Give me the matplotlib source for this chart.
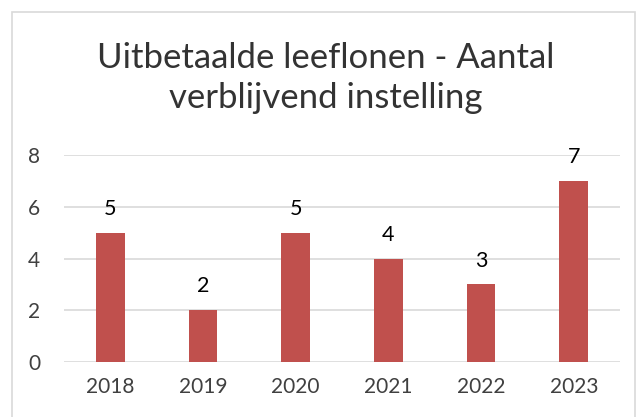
import matplotlib.pyplot as plt
from matplotlib.patches import Rectangle

# data
years = ["2018", "2019", "2020", "2021", "2022", "2023"]
counts = [5, 2, 5, 4, 3, 7]
yticks = [0, 2, 4, 6, 8]

plt.rcParams['font.family'] = ['Lato', 'DejaVu Sans']

fig = plt.figure(figsize=(6.42, 4.17), dpi=100)
ax = fig.add_axes([0.0997, 0.132, 0.8663, 0.496])

x = list(range(len(years)))
ax.bar(x, counts, width=0.31, color='#C0504D', zorder=3)
for xi, v in zip(x, counts):
    ax.annotate(str(v), (xi, v), xytext=(0, 10), textcoords='offset points',
                ha='center', va='bottom', fontsize=15.5, color='#000000')

ax.set_xlim(-0.5, len(years) - 0.5)
ax.set_ylim(0, 8)
ax.set_yticks(yticks)
ax.set_xticks(x)
ax.set_xticklabels(years)
ax.grid(axis='y', color='#D9D9D9', linewidth=1.2, zorder=0)
for s in ax.spines.values():
    s.set_visible(False)
ax.tick_params(axis='both', length=0, labelsize=15, labelcolor='#404040')
ax.tick_params(axis='y', pad=17)
ax.tick_params(axis='x', pad=11)

fig.text(0.508, 0.812, "Uitbetaalde leeflonen - Aantal\nverblijvend instelling",
         ha='center', va='center', fontsize=25, color='#333333', linespacing=1.3)

# chart border
fig.patches.append(Rectangle((12 / 642, -0.01), 623 / 642, 1 - 12 / 417 + 0.01,
                             transform=fig.transFigure, fill=False,
                             edgecolor='#D9D9D9', linewidth=1.2))

fig.savefig("out.png", dpi=100)
